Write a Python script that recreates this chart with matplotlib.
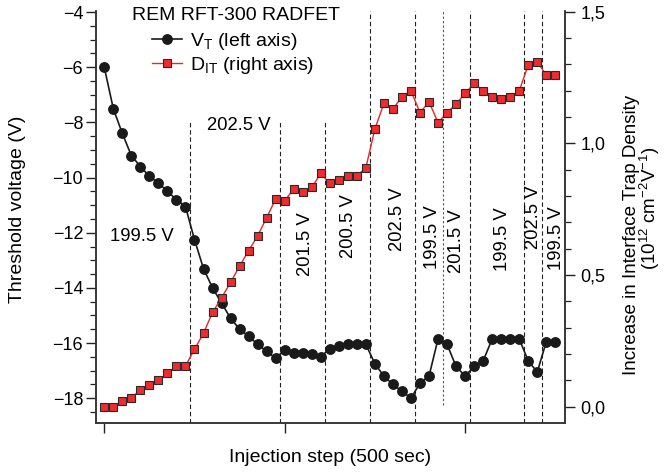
import numpy as np
import matplotlib
matplotlib.use("Agg")
from matplotlib import pyplot as plt
from matplotlib.ticker import FuncFormatter, MultipleLocator

plt.rcParams['font.family'] = ['Liberation Sans', 'DejaVu Sans']
plt.rcParams['mathtext.fontset'] = 'custom'
plt.rcParams['mathtext.rm'] = 'Liberation Sans'
plt.rcParams['mathtext.default'] = 'regular'

# threshold voltage (left axis) per injection step
vt = [-6.0, -7.5, -8.4, -9.2, -9.6, -9.95, -10.2, -10.5, -10.8, -11.05,
      -12.25, -13.3, -14.0, -14.55, -15.1, -15.5, -15.75, -16.05, -16.3, -16.55,
      -16.25, -16.35, -16.35, -16.4, -16.5, -16.2, -16.1, -16.05, -16.05, -16.05,
      -16.75, -17.2, -17.5, -17.75, -18.0, -17.45, -17.2, -15.85, -16.05, -16.85,
      -17.2, -16.85, -16.65, -15.85, -15.85, -15.85, -15.85, -16.65, -17.05, -15.95,
      -15.95]
# increase in interface trap density (right axis)
dit = [0.0, 0.0, 0.02, 0.034, 0.063, 0.082, 0.10, 0.127, 0.155, 0.155,
       0.218, 0.279, 0.358, 0.414, 0.472, 0.534, 0.592, 0.649, 0.718, 0.789,
       0.782, 0.827, 0.817, 0.833, 0.886, 0.848, 0.861, 0.877, 0.877, 0.908,
       1.055, 1.152, 1.131, 1.177, 1.20, 1.117, 1.158, 1.079, 1.117, 1.150,
       1.190, 1.228, 1.20, 1.175, 1.167, 1.175, 1.20, 1.298, 1.31, 1.26,
       1.26]
steps = np.arange(len(vt))

# stress voltage changes (between steps) and their labels
sw_pos = [9.45, 19.45, 24.5, 29.5, 34.5, 37.5, 40.55, 46.5, 48.5]
lbl_pos = [22.3, 27.1, 32.5, 36.4, 39.05, 44.1, 47.55, 50.15]
lbl_y = [-12.4, -11.75, -11.5, -12.15, -12.3, -12.25, -11.45, -12.2]
lbl_txt = ['201.5 V', '200.5 V', '202.5 V', '199.5 V', '201.5 V',
           '199.5 V', '202.5 V', '199.5 V']

fig = plt.figure(figsize=(6.66, 4.72), dpi=100)
ax = fig.add_axes([0.1437, 0.1032, 0.7046, 0.8735])
ax2 = ax.twinx()

for i, x in enumerate(sw_pos):
    if i < 3:
        ax.axvline(x, 0, 0.7315, color='#222222', lw=0.8, ls=(0, (4, 2.5)))
    elif i == 5:
        ax.axvline(x, 0.044, 1, color='#555555', lw=0.8, ls=(0, (2, 2)))
    else:
        ax.axvline(x, 0, 1, color='#222222', lw=0.8, ls=(0, (4, 2.5)))

ax.text(4.2, -12.15, '199.5 V', fontsize=13.3, ha='center', va='center')
ax.text(14.9, -8.12, '202.5 V', fontsize=13.3, ha='center', va='center')
for x, y, t in zip(lbl_pos, lbl_y, lbl_txt):
    ax.text(x, y, t, fontsize=13.3, rotation=90, ha='center', va='center')

l1, = ax.plot(steps, vt, '-o', color='#1a1a1a', lw=1.2, ms=6.8, zorder=3)
l2, = ax2.plot(steps, dit, '-s', color='#e8262a', lw=1.0, ms=6.0,
               mfc='#ee2b2e', mec='#2a2a2a', mew=0.8, zorder=3)

ax.set_xlim(-0.95, 51.07)
ax.set_ylim(-18.91, -3.96)
ax2.set_ylim(-0.063, 1.503)

ax.set_xticks([0, 20, 40])
ax.set_xticklabels([])
ax.yaxis.set_major_locator(MultipleLocator(2))
ax.yaxis.set_minor_locator(MultipleLocator(0.5))
ax2.yaxis.set_major_locator(MultipleLocator(0.5))
ax2.yaxis.set_minor_locator(MultipleLocator(0.1))
ax2.yaxis.set_major_formatter(FuncFormatter(lambda v, p: ('%.1f' % v).replace('.', ',')))

for a in (ax, ax2):
    a.spines['top'].set_visible(False)
    a.tick_params(which='major', direction='out', length=7, width=1.0, labelsize=13, color='#222222')
    a.tick_params(which='minor', direction='out', length=4.5, width=0.9, color='#222222')
    for s in a.spines.values():
        s.set_linewidth(1.1)
        s.set_color('#333333')
ax.tick_params(axis='y', pad=2)
ax2.tick_params(axis='y', pad=4)

fig.text(18 / 666, 1 - 209 / 472, 'Threshold voltage (V)', rotation=90,
         fontsize=14, ha='center', va='center')
fig.text(330.3 / 666, 1 - 458 / 472, 'Injection step (500 sec)',
         fontsize=14, ha='center', va='center')
fig.text(631.7 / 666, 1 - 235 / 472, 'Increase in Interface Trap Density',
         rotation=90, fontsize=13.5, ha='center', va='center')
fig.text(650 / 666, 1 - 208 / 472, r'(10$^{12}$ cm$^{-2}$V$^{-1}$)',
         rotation=90, fontsize=13.5, ha='center', va='center')

# legend with its heading as a separate line of text
fig.text(236 / 666, 1 - 15 / 472, 'REM RFT-300 RADFET', fontsize=14,
         ha='center', va='center')
ax2.legend([l1, l2], [r'V$_{T}$ (left axis)', r'D$_{IT}$ (right axis)'],
           loc='upper left', bbox_to_anchor=(151.7 / 666, 1 - 30.5 / 472),
           bbox_transform=fig.transFigure, frameon=False, fontsize=14,
           borderpad=0, borderaxespad=0, handlelength=1.55,
           handletextpad=0.42, labelspacing=0.17)

fig.savefig('out.png', dpi=100)
